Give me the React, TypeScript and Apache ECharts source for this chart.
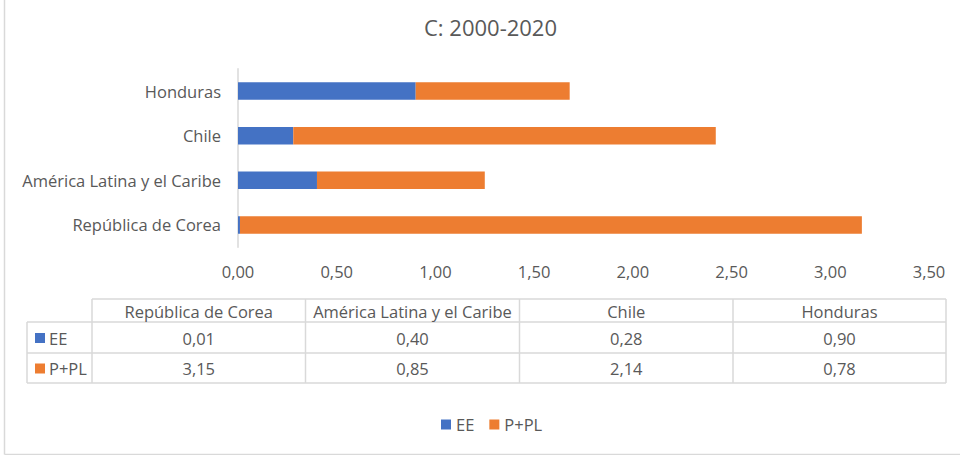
import React, { useEffect, useRef } from "react";
import * as echarts from "echarts";

const title = "C: 2000-2020";
const categories = ["República de Corea", "América Latina y el Caribe", "Chile", "Honduras"];
const seriesNames = ["EE", "P+PL"];
const eeValues = [0.01, 0.4, 0.28, 0.9];
const pplValues = [3.15, 0.85, 2.14, 0.78];
const colors = ["#4472C4", "#ED7D31"];

const FONT = "'Open Sans'";
const FS = 16.5;
const TEXT = "#595959";
const LINE = "#D9D9D9";

const fmt = (v: number) => v.toFixed(2).replace(".", ",");

function buildTable(): any[] {
  const els: any[] = [];
  const left = 27;
  const labelRight = 92;
  const colEdges = [92, 305.5, 519.5, 733, 946];
  const rowEdges = [299, 322, 353, 383];
  const lineStyle = { stroke: LINE, lineWidth: 1.5 };
  els.push({ type: "line", shape: { x1: labelRight, y1: rowEdges[0], x2: colEdges[4], y2: rowEdges[0] }, style: lineStyle });
  for (let r = 1; r < rowEdges.length; r++) {
    els.push({ type: "line", shape: { x1: left, y1: rowEdges[r], x2: colEdges[4], y2: rowEdges[r] }, style: lineStyle });
  }
  els.push({ type: "line", shape: { x1: left, y1: rowEdges[1], x2: left, y2: rowEdges[3] }, style: lineStyle });
  colEdges.forEach((x) => {
    els.push({ type: "line", shape: { x1: x, y1: rowEdges[0], x2: x, y2: rowEdges[3] }, style: lineStyle });
  });
  categories.forEach((c, i) => {
    els.push({
      type: "text",
      x: (colEdges[i] + colEdges[i + 1]) / 2,
      y: (rowEdges[0] + rowEdges[1]) / 2 + 0.5,
      style: { text: c, fill: TEXT, font: `${FS}px ${FONT}`, align: "center", verticalAlign: "middle" },
    });
  });
  const rows = [eeValues, pplValues];
  rows.forEach((vals, r) => {
    const cy = (rowEdges[r + 1] + rowEdges[r + 2]) / 2 + 0.5;
    els.push({ type: "rect", shape: { x: 35, y: cy - 5, width: 10, height: 10 }, style: { fill: colors[r] } });
    els.push({
      type: "text",
      x: 49,
      y: cy,
      style: { text: seriesNames[r], fill: TEXT, font: `${FS}px ${FONT}`, align: "left", verticalAlign: "middle" },
    });
    vals.forEach((v, i) => {
      els.push({
        type: "text",
        x: (colEdges[i] + colEdges[i + 1]) / 2,
        y: cy,
        style: { text: fmt(v), fill: TEXT, font: `${FS}px ${FONT}`, align: "center", verticalAlign: "middle" },
      });
    });
  });
  els.push({ type: "line", shape: { x1: 4.5, y1: 0, x2: 4.5, y2: 454.5 }, style: { stroke: LINE, lineWidth: 1.5 } });
  els.push({ type: "line", shape: { x1: 4.5, y1: 454.5, x2: 960, y2: 454.5 }, style: { stroke: LINE, lineWidth: 1.5 } });
  return els;
}

export default function App() {
  const ref = useRef<HTMLDivElement>(null);
  useEffect(() => {
    if (!ref.current) return;
    const chart = echarts.init(ref.current, null, { renderer: "svg" });
    chart.setOption({
      animation: false,
      backgroundColor: "#FFFFFF",
      title: {
        text: title,
        left: 485.5,
        textAlign: "center",
        top: 10.5,
        textStyle: { fontFamily: FONT, fontSize: 22, fontWeight: "normal", color: TEXT },
      },
      legend: {
        data: seriesNames,
        left: 441,
        top: 416,
        padding: 0,
        icon: "rect",
        itemWidth: 10,
        itemHeight: 10,
        itemGap: 15,
        textStyle: { fontFamily: FONT, fontSize: FS, color: TEXT },
      },
      grid: { left: 238, right: 31, top: 68.7, height: 178.6, containLabel: false },
      xAxis: {
        type: "value",
        min: 0,
        max: 3.5,
        interval: 0.5,
        axisLine: { show: false },
        axisTick: { show: false },
        splitLine: { show: false },
        axisLabel: {
          color: TEXT,
          fontFamily: FONT,
          fontSize: FS,
          margin: 16,
          formatter: (v: number) => fmt(v),
        },
      },
      yAxis: {
        type: "category",
        data: categories,
        axisLine: { show: true, lineStyle: { color: LINE, width: 1.5 } },
        axisTick: { show: false },
        axisLabel: { color: TEXT, fontFamily: FONT, fontSize: FS, margin: 17 },
      },
      series: [
        {
          name: seriesNames[0],
          type: "bar",
          stack: "total",
          data: eeValues,
          barWidth: "39%",
          itemStyle: { color: colors[0] },
        },
        {
          name: seriesNames[1],
          type: "bar",
          stack: "total",
          data: pplValues,
          barWidth: "39%",
          itemStyle: { color: colors[1] },
        },
      ],
      graphic: buildTable(),
    });
    return () => chart.dispose();
  }, []);
  return (
    <div
      ref={ref}
      style={{ position: "absolute", left: 0, top: 0, width: 960, height: 455 }}
    />
  );
}
